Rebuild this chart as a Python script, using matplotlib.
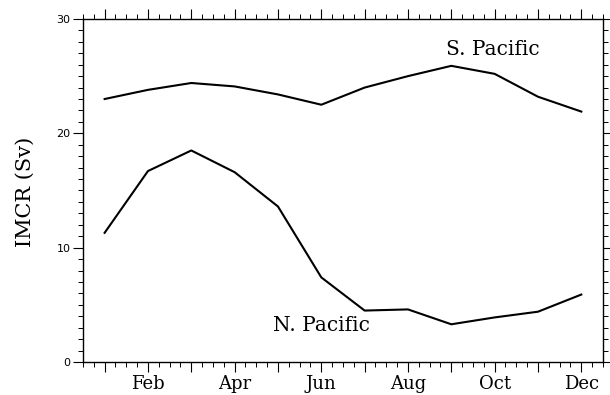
import numpy as np
import matplotlib.pyplot as plt
from matplotlib.ticker import MultipleLocator, FixedLocator

# 月ごとのIMCR (Sv)
months = np.arange(1, 13)
s_pacific = [23.0, 23.8, 24.4, 24.1, 23.4, 22.5, 24.0, 25.0, 25.9, 25.2, 23.2, 21.9]
n_pacific = [11.3, 16.7, 18.5, 16.6, 13.6, 7.4, 4.5, 4.6, 3.3, 3.9, 4.4, 5.9]
month_ticks = [2, 4, 6, 8, 10, 12]
month_labels = ["Feb", "Apr", "Jun", "Aug", "Oct", "Dec"]

serif = "DejaVu Serif"

fig = plt.figure(figsize=(6.1, 3.95), dpi=100)
ax = fig.add_axes([0.136, 0.0835, 0.8525, 0.8685])

ax.plot(months, s_pacific, color="black", lw=1.5)
ax.plot(months, n_pacific, color="black", lw=1.5)

ax.text(9.95, 27.3, "S. Pacific", family=serif, fontsize=14.5, ha="center", va="center")
ax.text(6.0, 3.2, "N. Pacific", family=serif, fontsize=14.5, ha="center", va="center")

ax.set_xlim(0.5, 12.5)
ax.set_ylim(0, 30)

# 目盛り：月ごとに長め、その間は細かく
ax.xaxis.set_major_locator(FixedLocator(months))
ax.xaxis.set_minor_locator(MultipleLocator(0.25))
ax.set_xticks(months)
ax.set_xticklabels(["" if m not in month_ticks else month_labels[month_ticks.index(m)] for m in months],
                   family=serif, fontsize=13)
ax.yaxis.set_major_locator(MultipleLocator(10))
ax.yaxis.set_minor_locator(MultipleLocator(1))
ax.tick_params(axis="y", labelsize=8)

ax.tick_params(which="major", direction="out", length=7, width=0.8,
               top=True, right=True, labeltop=False, labelright=False, pad=2)
ax.tick_params(which="minor", direction="out", length=3.5, width=0.7,
               top=True, right=True)

ax.set_ylabel("IMCR (Sv)", family=serif, fontsize=15)
ax.yaxis.set_label_coords(-0.092, 0.496)

for s in ax.spines.values():
    s.set_linewidth(1.0)

plt.savefig("out.png", dpi=100)
